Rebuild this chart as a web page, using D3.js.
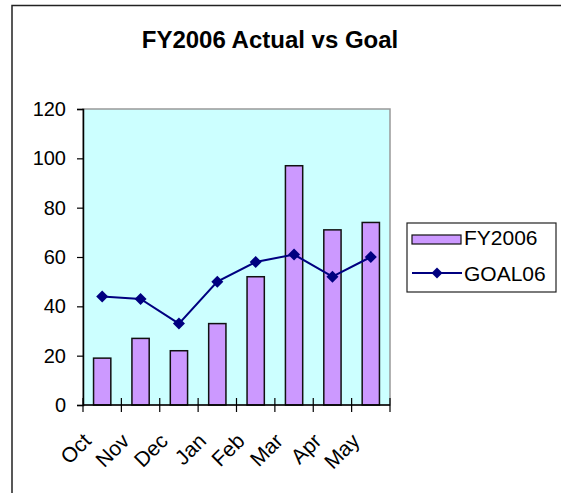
<!DOCTYPE html>
<html><head><meta charset="utf-8">
<script src="https://cdn.jsdelivr.net/npm/d3@7"></script>
<style>body{margin:0;background:#fff;overflow:hidden}svg{display:block;font-family:Arial,"Liberation Sans",sans-serif}</style>
</head><body><svg id="c" width="561" height="493"></svg>
<script>
const months = ["Oct","Nov","Dec","Jan","Feb","Mar","Apr","May"];
const fy2006 = [19,27,22,33,52,97,71,74];
const goal06 = [44,43,33,50,58,61,52,60];
const yTicks = [0,20,40,60,80,100,120];
const seriesNames = ["FY2006","GOAL06"];

const svg = d3.select("#c");
const L=83,R=390,T=109,B=405;
svg.append("rect").attr("x",12).attr("y",5.5).attr("width",700).attr("height",700)
  .attr("fill","#fff").attr("stroke","#222").attr("stroke-width",1.5);
svg.append("text").attr("x",270).attr("y",48).attr("text-anchor","middle")
  .attr("font-size",24).attr("font-weight","bold").text("FY2006 Actual vs Goal");

const y = d3.scaleLinear().domain([0,120]).range([B,T]);
const x = d3.scaleBand().domain(months).range([L,R]).paddingInner(0.55).paddingOuter(0.275);
const xb = d3.scaleLinear().domain([0,months.length]).range([L,R]);
const cx = d => x(d)+x.bandwidth()/2;

svg.append("rect").attr("x",L).attr("y",T).attr("width",R-L).attr("height",B-T)
  .attr("fill","#CCFFFF").attr("stroke","#999").attr("stroke-width",1.5);

svg.selectAll(".bar").data(months).join("rect")
  .attr("x",d=>x(d)).attr("width",x.bandwidth())
  .attr("y",(d,i)=>y(fy2006[i])).attr("height",(d,i)=>B-y(fy2006[i]))
  .attr("fill","#CC99FF").attr("stroke","#111").attr("stroke-width",1.5);

const yAxis = d3.axisLeft(y).tickValues(yTicks).tickSize(6).tickPadding(11);
const gy = svg.append("g").attr("transform",`translate(${L},0)`).call(yAxis);
gy.select(".domain").attr("stroke","#000").attr("stroke-width",1.5);
gy.selectAll(".tick line").attr("stroke","#000").attr("stroke-width",1.2);
gy.selectAll(".tick text").attr("font-size",20).attr("fill","#000").attr("font-family","Arial,'Liberation Sans',sans-serif");

svg.append("line").attr("x1",L).attr("x2",R).attr("y1",B).attr("y2",B).attr("stroke","#000").attr("stroke-width",1.5);
svg.selectAll(".xt").data(d3.range(months.length+1)).join("line")
  .attr("x1",i=>xb(i)).attr("x2",i=>xb(i)).attr("y1",B-7).attr("y2",B+7)
  .attr("stroke","#000").attr("stroke-width",1.2);
svg.selectAll(".xl").data(months).join("text")
  .attr("transform",d=>`translate(${cx(d)-15},${B+32}) rotate(-45)`)
  .attr("text-anchor","end").attr("font-size",21).attr("dy","0.35em").text(d=>d);

const line = d3.line().x((d,i)=>cx(months[i])).y(d=>y(d));
svg.append("path").datum(goal06).attr("d",line).attr("fill","none")
  .attr("stroke","#000080").attr("stroke-width",2);
svg.selectAll(".mk").data(goal06).join("path")
  .attr("transform",(d,i)=>`translate(${cx(months[i])},${y(d)}) rotate(45)`)
  .attr("d",d3.symbol().type(d3.symbolSquare).size(72)).attr("fill","#000080");

const lg = svg.append("g");
lg.append("rect").attr("x",407).attr("y",223).attr("width",149).attr("height",69)
  .attr("fill","#fff").attr("stroke","#222").attr("stroke-width",1.2);
lg.append("rect").attr("x",412).attr("y",235).attr("width",49).attr("height",9)
  .attr("fill","#CC99FF").attr("stroke","#111").attr("stroke-width",1.2);
lg.append("text").attr("x",464).attr("y",245).attr("font-size",21).text(seriesNames[0]);
lg.append("line").attr("x1",412).attr("x2",462).attr("y1",273).attr("y2",273)
  .attr("stroke","#000080").attr("stroke-width",2);
lg.append("path").attr("transform","translate(437,273) rotate(45)")
  .attr("d",d3.symbol().type(d3.symbolSquare).size(60)).attr("fill","#000080");
lg.append("text").attr("x",464).attr("y",281).attr("font-size",21).text(seriesNames[1]);
</script></body></html>
